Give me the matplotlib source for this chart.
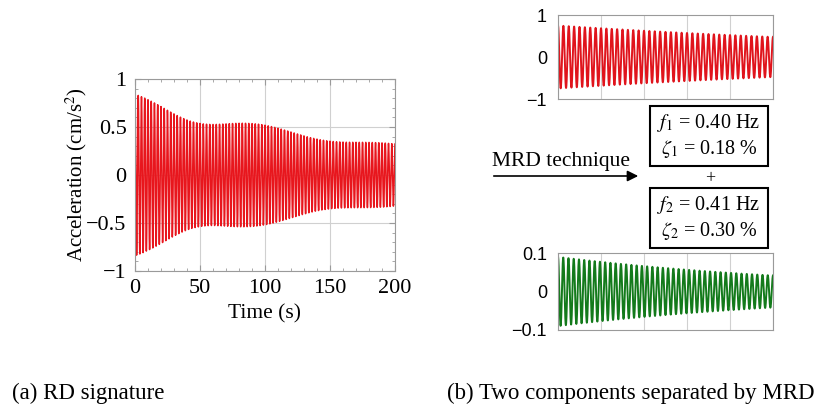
import numpy as np
import matplotlib.pyplot as plt
from matplotlib.patches import Rectangle, FancyArrowPatch

plt.rcParams['font.family'] = ['Liberation Serif', 'DejaVu Serif']
plt.rcParams['mathtext.fontset'] = 'stix'

# identified modal parameters (from the MRD boxes)
f1, zeta1, amp1 = 0.40, 0.18, 0.75
f2, zeta2, amp2 = 0.41, 0.30, 0.09

t_rd = np.arange(0, 200.01, 0.05)
t_comp = np.arange(0, 100.01, 0.05)


def mode(t, f, zeta, amp):
    w = 2 * np.pi * f
    return amp * np.exp(-zeta / 100 * w * t) * np.cos(w * np.sqrt(1 - (zeta / 100) ** 2) * t)


rd = mode(t_rd, f1, zeta1, amp1) + mode(t_rd, f2, zeta2, amp2)
c1 = mode(t_comp, f1, zeta1, amp1)
c2 = mode(t_comp, f2, zeta2, amp2)

W, H = 826, 409
fig = plt.figure(figsize=(W / 100, H / 100), dpi=100)


def px_axes(left, top, right, bottom):
    return fig.add_axes([left / W, 1 - bottom / H, (right - left) / W, (bottom - top) / H])


def style(ax):
    for s in ax.spines.values():
        s.set_color('#9a9a9a')
        s.set_linewidth(0.8)
    ax.tick_params(direction='in', color='#9a9a9a', top=True, right=True, pad=4)
    ax.tick_params(which='minor', direction='in', color='#9a9a9a', top=True, right=True)
    ax.grid(True, color='#d0d0d0', linewidth=0.8)


# (a) RD signature
ax = px_axes(135, 79, 395, 271)
ax.plot(t_rd, rd, color='#e8161d', linewidth=1.1)
ax.set_xlim(0, 200)
ax.set_ylim(-1, 1)
ax.set_xticks([0, 50, 100, 150, 200])
ax.set_yticks([-1, -0.5, 0, 0.5, 1])
ax.set_yticklabels(['\u22121', '\u22120.5', '0', '0.5', '1'])
ax.set_xticks(np.arange(0, 201, 10), minor=True)
ax.set_yticks(np.arange(-1, 1.01, 0.1), minor=True)
style(ax)
ax.grid(False, which='minor')
ax.tick_params(labelsize=16, length=4, pad=6)
ax.tick_params(which='minor', length=2)
ax.set_xlabel('Time (s)', fontsize=15.5, labelpad=4)
ax.set_ylabel(r'Acceleration (cm/s$^2$)', fontsize=15, labelpad=-2)

# (b) separated components
axes_b = [(px_axes(558, 15, 773, 99), c1, '#e0141c', [-1, 0, 1], ['\u22121', '0', '1'], 1),
          (px_axes(558, 253, 773, 330), c2, '#137a1b', [-0.1, 0, 0.1], ['\u22120.1', '0', '0.1'], 0.1)]
for axb, sig, col, yt, ytl, lim in axes_b:
    axb.plot(t_comp, sig, color=col, linewidth=1.4)
    axb.set_xlim(0, 100)
    axb.set_ylim(-lim, lim)
    axb.set_xticks([0, 20, 40, 60, 80, 100])
    axb.set_xticklabels([])
    axb.set_yticks(yt)
    axb.set_yticklabels(ytl, fontfamily='Liberation Sans')
    style(axb)
    axb.grid(False, axis='y')
    axb.tick_params(labelsize=13, length=0, pad=8)

# arrow and parameter boxes
fig.patches.append(FancyArrowPatch((491 / W, 1 - 176 / H), (641 / W, 1 - 176 / H),
                                   transform=fig.transFigure, arrowstyle='-|>',
                                   mutation_scale=16, color='black', linewidth=1.2))
fig.text(561 / W, 1 - 162 / H, 'MRD technique', fontsize=15.5, ha='center', va='center')

for top, bottom, lines in [(106, 166, (r'$f_1$ = %.2f Hz' % f1, r'$\zeta_1$ = %.2f %%' % zeta1)),
                           (188, 248, (r'$f_2$ = %.2f Hz' % f2, r'$\zeta_2$ = %.2f %%' % zeta2))]:
    fig.patches.append(Rectangle((650 / W, 1 - bottom / H), 118 / W, (bottom - top) / H,
                                 transform=fig.transFigure, fill=False,
                                 edgecolor='black', linewidth=1.5))
    fig.text(709 / W, 1 - (top + 17) / H, lines[0], fontsize=14.5, ha='center', va='center')
    fig.text(709 / W, 1 - (top + 43) / H, lines[1], fontsize=14.5, ha='center', va='center')
fig.text(710 / W, 1 - 179 / H, '+', fontsize=13, ha='center', va='center')

fig.text(12 / W, 1 - 393 / H, '(a) RD signature', fontsize=16.5, va='center')
fig.text(447 / W, 1 - 393 / H, '(b) Two components separated by MRD', fontsize=16.5, va='center')

fig.savefig('out.png', dpi=100)
